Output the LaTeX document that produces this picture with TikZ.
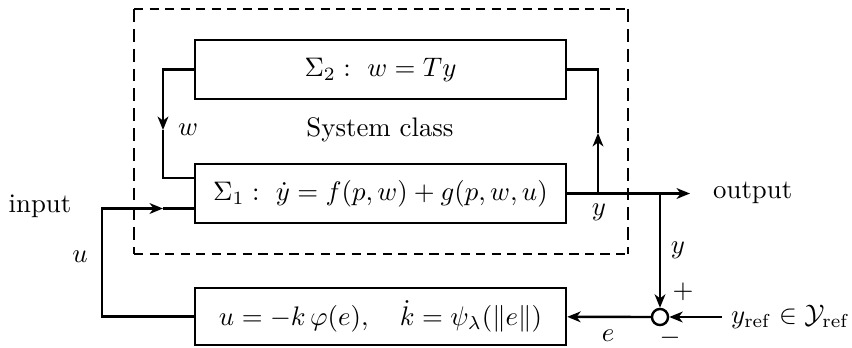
\documentclass[tikz,border=0pt]{standalone}
\usetikzlibrary{arrows.meta}
\begin{document}
\begin{tikzpicture}[x=0.373pt,y=-0.373pt,
  line width=0.9pt,
  blk/.style={draw, minimum width=138.4pt, minimum height=22pt, inner sep=0pt},
  arr/.style={-{Stealth[length=5pt,width=4pt,inset=1.5pt]}},
  lbl/.style={inner sep=0pt}]
\useasboundingbox (0,0) rectangle (852,347);
\coordinate (d1) at (134,9);
\coordinate (d2) at (628,9);
\coordinate (d3) at (628,254);
\coordinate (d4) at (134,254);
\draw[dash pattern=on 3.4pt off 2.4pt] (d1) -- (d2) (d4) -- (d3);
\draw[dash pattern=on 4.8pt off 2.6pt] (d1) -- (d4) (d2) -- (d3);

\node[blk] (s2) at (380.5,69.5) {$\Sigma_2:\ w = Ty$};
\node[blk] (s1) at (380.5,193.5) {$\Sigma_1:\ \dot y = f(p,w) + g(p,w,u)$};
\node[blk, minimum height=21.3pt] (c) at (380.5,316.5) {$u = -k\,\varphi(e), \quad \dot k = \psi_\lambda(\|e\|)$};
\node[circle, draw, minimum size=6pt, inner sep=0pt] (sum) at (660,317) {};

\coordinate (wa) at (163,130);
\coordinate (s1a) at (195,178);
\coordinate (yj) at (598,193.5);
\coordinate (ya) at (598,133);
\coordinate (oj) at (660,193.5);
\coordinate (oend) at (690,193.5);
\coordinate (yr) at (722,317);
\coordinate (uc) at (102,208.5);
\coordinate (ua) at (163,208.5);
\coordinate (s1b) at (195,208.5);

\draw[arr] (s2.west) -| (wa);
\draw (wa) |- (s1a);
\draw[arr] (yj) -- (ya);
\draw (ya) |- (s2.east);
\draw[arr] (s1.east) -- (oend);
\draw[arr] (oj) -- (sum);
\draw[arr] (yr) -- (sum);
\draw[arr] (sum) -- (c);
\draw[arr] (c.west) -| (uc) -- (ua);
\draw (ua) -- (s1b);

\node[lbl] (tin) at (40,206) {input};
\node[lbl] (tu) at (80,257) {$u$};
\node[lbl] (tw) at (188,130) {$w$};
\node[lbl] (tsc) at (380,130) {System class};
\node[lbl] (ty1) at (599,212) {$y$};
\node[lbl, anchor=west] (tout) at (712,193) {output};
\node[lbl] (ty2) at (678,250) {$y$};
\node[lbl] (tp) at (683,292) {$+$};
\node[lbl] (tm) at (670,338) {$-$};
\node[lbl] (te) at (608,336) {$e$};
\node[lbl, anchor=west] (tref) at (730,317) {$y_{\mathrm{ref}}\in\mathcal{Y}_{\mathrm{ref}}$};
\end{tikzpicture}
\end{document}
